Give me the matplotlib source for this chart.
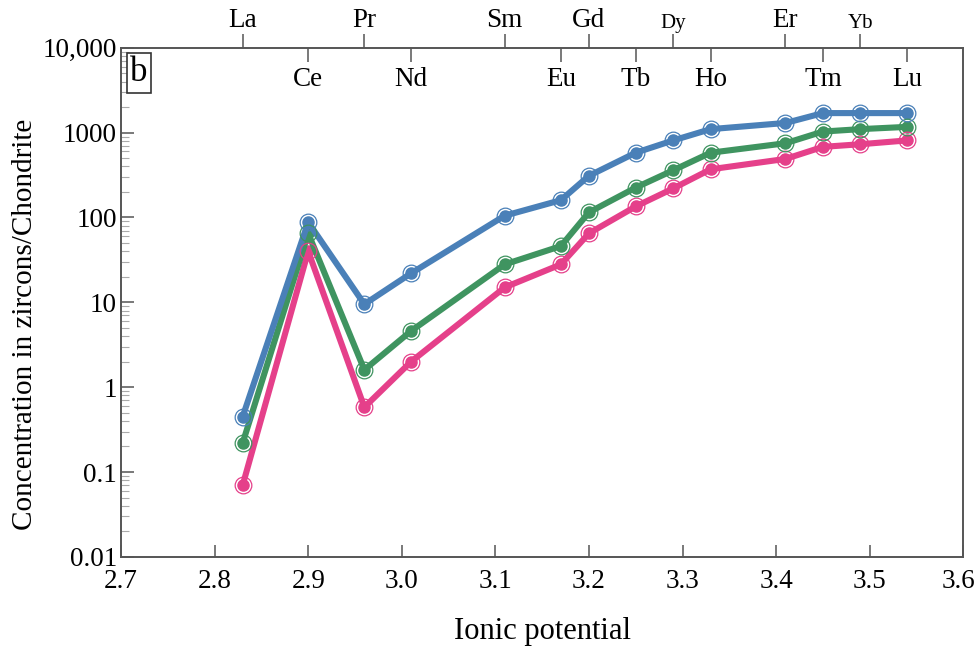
import matplotlib
matplotlib.use("Agg")
import matplotlib.pyplot as plt
from matplotlib.ticker import LogLocator, NullFormatter
from matplotlib.transforms import blended_transform_factory, ScaledTranslation

plt.rcParams['font.family'] = ['Liberation Serif', 'DejaVu Serif']

elements = ["La", "Ce", "Pr", "Nd", "Sm", "Eu", "Gd", "Tb", "Dy", "Ho", "Er", "Tm", "Yb", "Lu"]
ionic_potential = [2.83, 2.90, 2.96, 3.01, 3.11, 3.17, 3.20, 3.25, 3.29, 3.33, 3.41, 3.45, 3.49, 3.54]

blue_values = [0.45, 88, 9.5, 22, 105, 160, 310, 580, 810, 1100, 1300, 1700, 1700, 1700]
green_values = [0.22, 65, 1.6, 4.6, 28, 46, 115, 225, 360, 580, 750, 1030, 1100, 1170]
pink_values = [0.07, 40, 0.58, 2.0, 15, 28, 65, 135, 220, 370, 490, 680, 730, 810]

series = [
    (pink_values, "#e5408a"),
    (green_values, "#3f9460"),
    (blue_values, "#4a80b8"),
]

y_ticks = [0.01, 0.1, 1, 10, 100, 1000, 10000]
y_tick_labels = ["0.01", "0.1", "1", "10", "100", "1000", "10,000"]
x_ticks = [2.7, 2.8, 2.9, 3.0, 3.1, 3.2, 3.3, 3.4, 3.5, 3.6]
x_tick_labels = ["2.7", "2.8", "2.9", "3.0", "3.1", "3.2", "3.3", "3.4", "3.5", "3.6"]

fig = plt.figure(figsize=(9.76, 6.46), dpi=100)
ax = fig.add_axes([0.124, 0.138, 0.863, 0.788])

for vals, col in series:
    ax.plot(ionic_potential, vals, color=col, lw=4.4, marker='o', ms=8,
            mfc=col, mec=col, zorder=3, solid_capstyle='round')
    ax.plot(ionic_potential, vals, ls='none', marker='o', ms=12,
            mfc='none', mec=col, mew=0.9, zorder=4)

ax.set_yscale('log')
ax.set_ylim(0.01, 10000)
ax.set_xlim(2.7, 3.6)
ax.set_yticks(y_ticks, labels=y_tick_labels)
ax.yaxis.set_minor_locator(LogLocator(base=10, subs=range(2, 10), numticks=20))
ax.yaxis.set_minor_formatter(NullFormatter())
ax.set_xticks(x_ticks, labels=x_tick_labels)

for s in ax.spines.values():
    s.set_color('#555555')
    s.set_linewidth(1.4)

ax.tick_params(axis='both', which='major', direction='in', length=9, width=1.1,
               color='#555555', labelsize=19.5)
ax.tick_params(axis='y', which='minor', direction='in', length=6, width=0.8, color='#aaaaaa')
ax.tick_params(axis='x', pad=9)
ax.tick_params(axis='y', pad=3)

ax.set_xlabel("Ionic potential", fontsize=22, labelpad=16)
ax.set_ylabel("Concentration in zircons/Chondrite", fontsize=21)
ax.yaxis.set_label_coords(-0.098, 0.456)

# element ticks on top
outer_x = ionic_potential[0::2]
outer_lab = elements[0::2]
inner_x = ionic_potential[1::2]
inner_lab = elements[1::2]

top_out = ax.secondary_xaxis('top')
top_out.set_xticks(outer_x, labels=outer_lab)
top_out.tick_params(direction='out', length=10, width=1.1, color='#555555', labelsize=19.5, pad=1)
for t in top_out.get_xticklabels():
    if t.get_text() in ("Dy", "Yb"):
        t.set_fontsize(15)
top_out.spines['top'].set_visible(False)

top_in = ax.secondary_xaxis('top')
top_in.set_xticks(inner_x, labels=[])
top_in.tick_params(direction='in', length=10, width=1.1, color='#555555')
top_in.spines['top'].set_visible(False)

tr = blended_transform_factory(ax.transData, ax.transAxes)
for xv, lab in zip(inner_x, inner_lab):
    ax.text(xv, 0.962, lab, transform=tr, ha='center', va='top', fontsize=19.5)

ax.text(0.011, 0.983, "b", transform=ax.transAxes, ha='left', va='top', fontsize=25,
        bbox=dict(boxstyle='square,pad=0.1', fc='white', ec='#333333', lw=1.2), zorder=6)

fig.canvas.draw()
last_tick = ax.xaxis.get_major_ticks()[-1]
last_tick.label1.set_transform(last_tick.label1.get_transform()
                               + ScaledTranslation(-5 / 100, 0, fig.dpi_scale_trans))

fig.savefig("out.png", dpi=100)
